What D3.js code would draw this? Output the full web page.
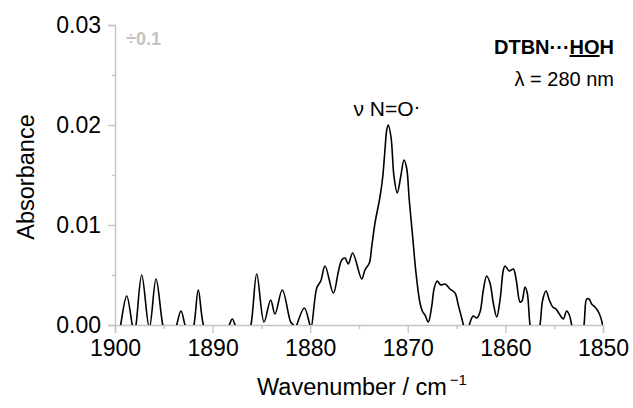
<!DOCTYPE html>
<html>
<head>
<meta charset="utf-8">
<script src="https://cdn.jsdelivr.net/npm/d3@7"></script>
<style>
  html, body { margin: 0; padding: 0; background: #fff; }
  svg { display: block; font-family: "Liberation Sans", Arial, sans-serif; }
</style>
</head>
<body>
<svg id="chart" width="633" height="408"></svg>
<script>
// Difference IR spectrum, N=O stretch region (absorbance vs wavenumber)
const wavenumber = [
  1900.0, 1899.42, 1898.8, 1898.23, 1898.04, 1897.85, 1897.26, 1896.48, 1895.8, 1895.11,
  1894.4, 1893.68, 1893.24, 1892.83, 1892.37, 1891.91, 1891.47, 1890.95, 1889.6, 1888.29,
  1887.98, 1887.7, 1886.9, 1886.07, 1885.48, 1884.73, 1884.05, 1883.61, 1882.86, 1882.0,
  1881.73, 1881.55, 1881.38, 1880.6, 1880.02, 1879.9, 1879.33, 1878.92, 1878.48, 1877.63,
  1877.12, 1876.77, 1876.43, 1876.1, 1875.65, 1874.72, 1874.39, 1873.94, 1873.7, 1873.36,
  1872.85, 1872.57, 1872.34, 1872.16, 1872.0, 1871.72, 1871.41, 1871.08, 1870.73, 1870.39,
  1870.12, 1869.85, 1869.5, 1869.16, 1868.75, 1868.47, 1868.24, 1867.9, 1867.56, 1867.29,
  1866.98, 1866.63, 1866.19, 1865.68, 1865.16, 1864.83, 1864.48, 1864.31, 1864.0, 1863.7,
  1863.29, 1862.94, 1862.6, 1862.26, 1861.92, 1861.58, 1861.24, 1860.89, 1860.55, 1860.21,
  1860.04, 1859.6, 1859.19, 1858.89, 1858.5, 1858.3, 1857.99, 1857.76, 1857.48, 1856.97,
  1856.45, 1856.18, 1855.84, 1855.5, 1855.15, 1854.82, 1854.41, 1854.07, 1853.72, 1853.45,
  1853.21, 1852.56, 1851.95, 1851.67, 1851.43, 1851.16, 1850.82, 1850.41, 1850.03, 1850.0
];
const absorbance = [
  -0.004, 0.0, 0.0029, 0.0, -0.0008, 0.0, 0.0050, -0.0003, 0.0046, 0.0,
  -0.003, 0.0, 0.0014, 0.0, -0.0015, 0.0, 0.0035, 0.0, -0.004, 0.0,
  0.0006, 0.0, -0.003, 0.0, 0.0051, 0.0003, 0.0025, 0.0011, 0.0035, 0.0003,
  0.0, -0.0005, 0.0, 0.0017, 0.0, -0.0002, 0.0037, 0.0044, 0.0059, 0.0032,
  0.0053, 0.0065, 0.0067, 0.0061, 0.0072, 0.0046, 0.0055, 0.0062, 0.0078, 0.0102,
  0.0128, 0.0148, 0.0175, 0.0195, 0.0200, 0.0188, 0.0148, 0.0132, 0.0148, 0.0165,
  0.0157, 0.0125, 0.0088, 0.0052, 0.0022, 0.0013, 0.0010, 0.0003, 0.0018, 0.0037,
  0.0044, 0.0040, 0.0041, 0.0036, 0.0032, 0.0020, 0.0007, 0.0, -0.002, 0.0,
  0.0009, 0.0007, 0.0013, 0.0035, 0.0049, 0.0042, 0.0022, 0.0008, 0.0025, 0.0055,
  0.0059, 0.0054, 0.0056, 0.0045, 0.0023, 0.0024, 0.0038, 0.0032, 0.0, -0.003,
  0.0, 0.0025, 0.0034, 0.0025, 0.0018, 0.0016, 0.0010, 0.0006, 0.0014, 0.0010,
  0.0, -0.003, 0.0, 0.0026, 0.0026, 0.0021, 0.0018, 0.0012, 0.0, -0.0002
];
const xTicks = [1900, 1890, 1880, 1870, 1860, 1850];
const xMinorTicks = [1895, 1885, 1875, 1865, 1855];
const yTicks = [0, 0.01, 0.02, 0.03];
const yMinorTicks = [0.005, 0.015, 0.025];

const svg = d3.select("#chart");
const axisColor = "#c4c4c4";

const x = d3.scaleLinear().domain([1900, 1850]).range([115, 603]);
const y = d3.scaleLinear().domain([0, 0.03]).range([325, 25]);

// clip region: the trace is cut off at zero absorbance
svg.append("defs").append("clipPath").attr("id", "plotClip")
  .append("rect")
  .attr("x", x.range()[0]).attr("y", y.range()[1] - 5)
  .attr("width", x.range()[1] - x.range()[0])
  .attr("height", y.range()[0] - y.range()[1] + 5);

// y axis
svg.append("g").attr("transform", `translate(${x.range()[0]},0)`)
  .call(d3.axisLeft(y).tickValues(yTicks).tickFormat(d3.format(".2f")).tickSize(7).tickPadding(7));
svg.append("g").attr("transform", `translate(${x.range()[0]},0)`)
  .call(d3.axisLeft(y).tickValues(yMinorTicks).tickFormat("").tickSize(3))
  .call(g => g.select(".domain").remove());

// x axis
svg.append("g").attr("transform", `translate(0,${y.range()[0]})`)
  .call(d3.axisBottom(x).tickValues(xTicks).tickFormat(d3.format("d")).tickSize(8).tickPadding(7));
svg.append("g").attr("transform", `translate(0,${y.range()[0]})`)
  .call(d3.axisBottom(x).tickValues(xMinorTicks).tickFormat("").tickSize(4))
  .call(g => g.select(".domain").remove());

svg.selectAll(".domain").attr("stroke", axisColor).attr("stroke-width", 1.4);
svg.selectAll(".tick line").attr("stroke", axisColor).attr("stroke-width", 1.4);
svg.selectAll(".tick text").attr("fill", "#000").attr("font-size", 23)
  .attr("font-family", "Liberation Sans, Arial, sans-serif");

// spectrum trace
const pts = wavenumber.map((w, i) => [w, absorbance[i]]);
const line = d3.line()
  .x(d => x(d[0]))
  .y(d => y(d[1]))
  .curve(d3.curveCatmullRom.alpha(0.5));
svg.append("path")
  .datum(pts)
  .attr("clip-path", "url(#plotClip)")
  .attr("fill", "none")
  .attr("stroke", "#000")
  .attr("stroke-width", 1.6)
  .attr("stroke-linejoin", "round")
  .attr("d", line);

// axis titles
svg.append("text")
  .attr("transform", "translate(34,177) rotate(-90)")
  .attr("text-anchor", "middle")
  .attr("font-size", 23.5)
  .text("Absorbance");

const xt = svg.append("text")
  .attr("x", 362).attr("y", 395)
  .attr("text-anchor", "middle")
  .attr("font-size", 23.5);
xt.append("tspan").text("Wavenumber / cm");
xt.append("tspan").attr("dy", -10).attr("font-size", 15).text("\u2009\u22121");

// scale factor note
svg.append("text")
  .attr("x", 126).attr("y", 45)
  .attr("font-size", 18).attr("font-weight", "bold")
  .attr("fill", "#c4c4c4")
  .text("÷0.1");

// sample label
const lab = svg.append("text")
  .attr("x", 614).attr("y", 54)
  .attr("text-anchor", "end")
  .attr("font-size", 20).attr("font-weight", "bold");
lab.append("tspan").text("DTBN···");
lab.append("tspan").attr("text-decoration", "underline").text("HO");
lab.append("tspan").text("H");

svg.append("text")
  .attr("x", 614).attr("y", 86)
  .attr("text-anchor", "end")
  .attr("font-size", 20)
  .text("λ = 280 nm");

// band assignment
const band = svg.append("text")
  .attr("x", 387).attr("y", 116)
  .attr("text-anchor", "middle")
  .attr("font-size", 21);
band.append("tspan").text("ν N=O");
band.append("tspan").attr("dy", -3).text("·");
</script>
</body>
</html>
